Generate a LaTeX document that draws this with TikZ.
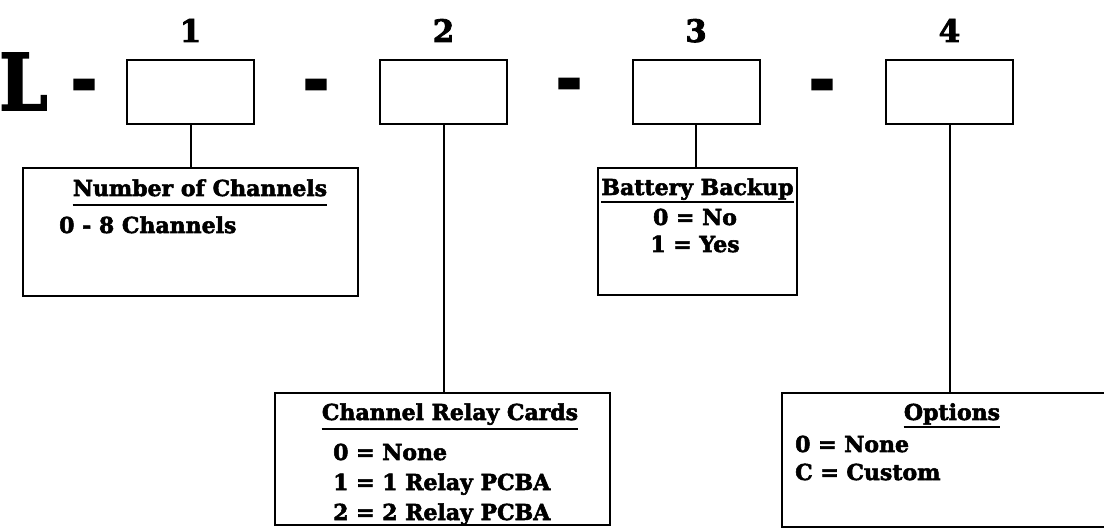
\documentclass[tikz,border=0pt]{standalone}
\usepackage{fontspec}
\setmainfont{DejaVu Serif}[BoldFeatures={FakeBold=2.5}]
\tikzset{
  slot/.style={draw, line width=2pt, minimum width=127pt, minimum height=64pt, inner sep=0pt},
  infobox/.style={draw, line width=1.9pt, inner sep=0pt},
  conn/.style={line width=2pt},
  txt/.style={inner sep=0pt, font=\fontsize{22}{25}\selectfont\bfseries},
  head/.style={txt, anchor=base},
  item/.style={txt, anchor=base west},
  citem/.style={txt, anchor=base},
  num/.style={inner sep=0pt, anchor=base, font=\fontsize{31}{33}\selectfont\bfseries},
  dashmark/.style={inner sep=0pt, font=\fontsize{46}{50}\selectfont\bfseries},
}
\begin{document}
\begin{tikzpicture}[x=1pt,y=-1pt]
\useasboundingbox (0,0) rectangle (1104,529);
% prefix
\node[inner sep=0pt, anchor=base west, font=\fontsize{78}{80}\selectfont\bfseries] (L) at (-1,110) {\scalebox{0.88}[1]{L}};
% slots
\node[slot] (b1) at (190.5,92) {};
\node[slot] (b2) at (443.5,92) {};
\node[slot] (b3) at (696,92) {};
\node[slot] (b4) at (949.5,92) {};
% numbers
\node[num] (n1) at (190.5,42) {1};
\node[num] (n2) at (443.5,42) {2};
\node[num] (n3) at (696,42) {3};
\node[num] (n4) at (949.5,42) {4};
% dashes
\node[dashmark] (d0) at (84,93) {\scalebox{1.1}[1.8]{–}};
\node[dashmark] (d1) at (316,93) {\scalebox{1.1}[1.8]{–}};
\node[dashmark] (d2) at (569,92) {\scalebox{1.1}[1.8]{–}};
\node[dashmark] (d3) at (822,93) {\scalebox{1.1}[1.8]{–}};
% info boxes
\node[infobox, minimum width=335pt, minimum height=128pt] (nc) at (190.5,232) {};
\node[infobox, minimum width=199pt, minimum height=127pt] (bb) at (697.5,231.5) {};
\node[infobox, minimum width=335pt, minimum height=132pt] (cr) at (442.5,459) {};
\node[infobox, minimum width=335pt, minimum height=134pt] (op) at (949.5,460) {};
% connectors
\draw[conn] (b1.south) -- (b1.south |- nc.north);
\draw[conn] (b2.south) -- (b2.south |- cr.north);
\draw[conn] (b3.south) -- (b3.south |- bb.north);
\draw[conn] (b4.south) -- (b4.south |- op.north);
% texts: number of channels
\node[head] (ncH) at (200,196) {Number of Channels};
\draw[line width=2pt] ([yshift=-9pt]ncH.base west) -- ([yshift=-9pt]ncH.base east);
\node[item] (nc1) at (59,233) {0 - 8 Channels};
% battery backup
\node[head] (bbH) at (697.5,195) {Battery Backup};
\draw[line width=2pt] ([yshift=-7pt]bbH.base west) -- ([yshift=-7pt]bbH.base east);
\node[citem] (bb1) at (695,225) {0 = No};
\node[citem] (bb2) at (695,252) {1 = Yes};
% channel relay cards
\node[head] (crH) at (450,420) {Channel Relay Cards};
\draw[line width=2pt] ([yshift=-9pt]crH.base west) -- ([yshift=-9pt]crH.base east);
\node[item] (cr1) at (333,460) {0 = None};
\node[item] (cr2) at (333,490) {1 = 1 Relay PCBA};
\node[item] (cr3) at (333,520) {2 = 2 Relay PCBA};
% options
\node[head] (opH) at (952,420) {Options};
\draw[line width=2pt] ([yshift=-7pt]opH.base west) -- ([yshift=-7pt]opH.base east);
\node[item] (op1) at (795,452) {0 = None};
\node[item] (op2) at (795,480) {C = Custom};
\end{tikzpicture}
\end{document}
